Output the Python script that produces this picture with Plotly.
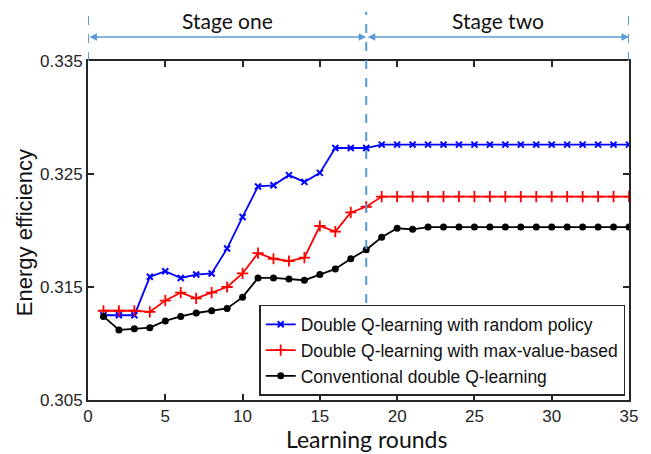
import plotly.graph_objects as go

rounds = list(range(1, 36))

random_policy = [0.3125, 0.3125, 0.3125, 0.3159, 0.3164, 0.3158, 0.3161, 0.3162, 0.3184, 0.3212,
                 0.3239, 0.3240, 0.3249, 0.3243, 0.3251, 0.3273, 0.3273, 0.3273] + [0.3276] * 17
max_value = [0.3129, 0.3129, 0.3129, 0.3128, 0.3138, 0.3145, 0.3140, 0.3145, 0.3150, 0.3162,
             0.3180, 0.3175, 0.3173, 0.3176, 0.3204, 0.3199, 0.3216, 0.3221] + [0.3230] * 17
conventional = [0.3124, 0.3112, 0.3113, 0.3114, 0.3120, 0.3124, 0.3127, 0.3129, 0.3131, 0.3141,
                0.3158, 0.3158, 0.3157, 0.3156, 0.3161, 0.3166, 0.3175, 0.3183, 0.3194, 0.3202,
                0.3201] + [0.3203] * 14

names = ["Double Q-learning with random policy",
         "Double Q-learning with max-value-based",
         "Conventional double Q-learning"]
stage_labels = ["Stage one", "Stage two"]
stage_bounds = [0, 18, 35]
x_ticks = [0, 5, 10, 15, 20, 25, 30, 35]
y_ticks = [0.305, 0.315, 0.325, 0.335]

blue_dash = "#5B9BD5"

fig = go.Figure()
fig.add_trace(go.Scatter(x=rounds, y=random_policy, name=names[0], mode="lines+markers",
                         line=dict(color="#0000FF", width=1.8),
                         marker=dict(symbol="x-thin", size=6, line=dict(color="#0000FF", width=2))))
fig.add_trace(go.Scatter(x=rounds, y=max_value, name=names[1], mode="lines+markers",
                         line=dict(color="#FF0000", width=1.8),
                         marker=dict(symbol="cross-thin", size=8, line=dict(color="#FF0000", width=1.8))))
fig.add_trace(go.Scatter(x=rounds, y=conventional, name=names[2], mode="lines+markers",
                         line=dict(color="#000000", width=1.8),
                         marker=dict(symbol="circle", size=7, color="#000000")))

axis_common = dict(showgrid=False, zeroline=False, showline=True, linecolor="#262626", linewidth=2,
                   mirror="ticks", ticks="inside", ticklen=6, tickwidth=1.5, tickcolor="#262626",
                   tickfont=dict(family="Liberation Sans, Arial", size=17, color="#262626"))

fig.update_xaxes(range=[0, 35], tickvals=x_ticks, **axis_common)
fig.update_yaxes(range=[0.305, 0.335], tickvals=y_ticks, tickformat=".3f", **axis_common)

shapes = []
for i, b in enumerate(stage_bounds):
    y0 = 0.286 if i == 1 else 1.0
    shapes.append(dict(type="line", xref="x", yref="paper", x0=b, x1=b, y0=y0, y1=1.145,
                       line=dict(color=blue_dash, width=2, dash="dash"), layer="above"))
fig.update_layout(shapes=shapes)

annotations = []
for i in range(2):
    a, b = stage_bounds[i], stage_bounds[i + 1]
    annotations.append(dict(x=b, y=1.0708, xref="x", yref="paper", ax=a, ay=0, axref="x", ayref="pixel",
                            showarrow=True, arrowhead=2, arrowside="end+start", arrowsize=1,
                            arrowwidth=1.5, arrowcolor=blue_dash, text=""))
    annotations.append(dict(x=(a + b) / 2, y=1.12, xref="x", yref="paper", text=stage_labels[i],
                            showarrow=False, font=dict(family="Lato", size=21, color="#111111"),
                            yanchor="middle"))
annotations.append(dict(x=0.514, y=-0.115, xref="paper", yref="paper", text="Learning rounds",
                        showarrow=False, font=dict(family="Lato", size=23, color="#111111"),
                        yanchor="middle"))
annotations.append(dict(x=-0.118, y=0.4926, xref="paper", yref="paper", text="Energy efficiency",
                        textangle=-90, showarrow=False,
                        font=dict(family="Liberation Sans, Arial", size=22, color="#111111"),
                        xanchor="center", yanchor="middle"))

fig.update_layout(
    annotations=annotations,
    width=651, height=454,
    margin=dict(l=88, r=22, t=61, b=54),
    plot_bgcolor="white", paper_bgcolor="white",
    legend=dict(x=0.993, y=0.012, xanchor="right", yanchor="bottom",
                bgcolor="white", bordercolor="#262626", borderwidth=1.5,
                font=dict(family="Liberation Sans, Arial", size=17.5, color="#111111"),
                itemwidth=30, tracegroupgap=0),
)

fig.write_html("out.html")
